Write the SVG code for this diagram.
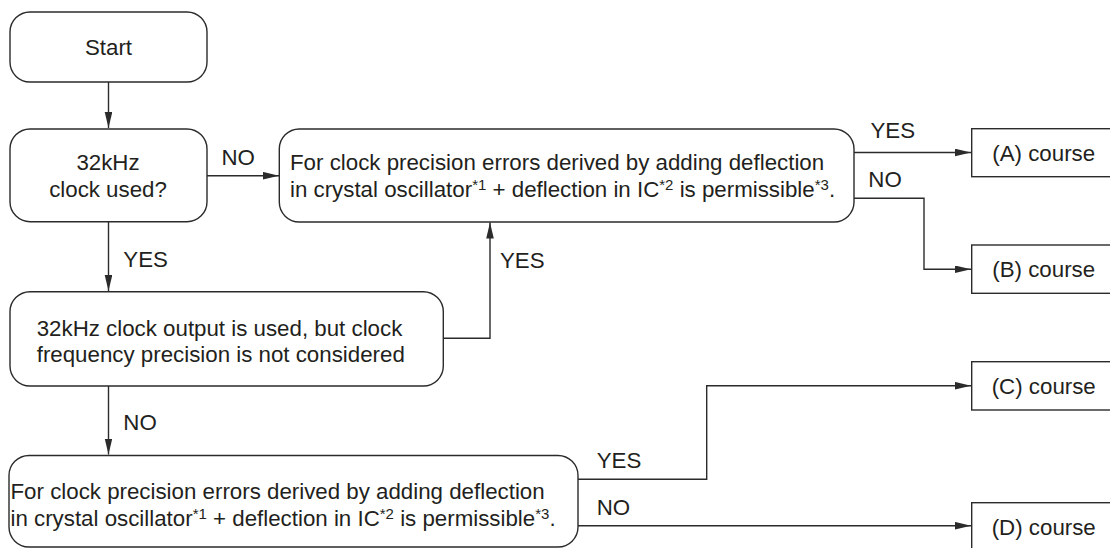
<svg xmlns="http://www.w3.org/2000/svg" width="1110" height="548" viewBox="0 0 1110 548">
<style>
.box{fill:#fff;stroke:#2b2b2b;stroke-width:1.4}
.t{font-family:"Liberation Sans",Arial,Helvetica,sans-serif;font-size:22.3px;fill:#231f20}
.c{text-anchor:middle}
.sup{font-size:15px}
.ln{fill:none;stroke:#2b2b2b;stroke-width:1.4;marker-end:url(#ah)}
</style>
<defs>
<marker id="ah" markerUnits="userSpaceOnUse" markerWidth="17" markerHeight="8" refX="16" refY="3.8" orient="auto">
<path d="M0,0 L16,3.8 L0,7.6 Z" fill="#2b2b2b"/>
</marker>
</defs>
<rect width="1110" height="548" fill="#fff"/>
<g id="connectors">
<path class="ln" d="M108.5,82 V128"/>
<path class="ln" d="M207,175.7 H279"/>
<path class="ln" d="M108.5,222 V291"/>
<path class="ln" d="M443,338.3 H490 V222.5"/>
<path class="ln" d="M854,152.5 H971"/>
<path class="ln" d="M854,198.3 H924 V269.3 H971"/>
<path class="ln" d="M108.5,386 V454.5"/>
<path class="ln" d="M578,479.3 H706.7 V385.7 H971"/>
<path class="ln" d="M578,525.7 H971"/>
</g>
<g id="labels">
<text class="t" x="221.5" y="165">NO</text>
<text class="t" x="123.3" y="266.7">YES</text>
<text class="t" x="500" y="268.3">YES</text>
<text class="t" x="870.5" y="138.3">YES</text>
<text class="t" x="868.3" y="186.7">NO</text>
<text class="t" x="123.3" y="430">NO</text>
<text class="t" x="596.7" y="468.3">YES</text>
<text class="t" x="596.7" y="515">NO</text>
</g>
<g id="start">
<rect class="box" x="10" y="12" width="197" height="70" rx="20"/>
<text class="t c" x="108.5" y="55.3">Start</text>
</g>
<g id="q32k">
<rect class="box" x="10" y="129" width="197" height="92.7" rx="20"/>
<text class="t c" x="108" y="170">32kHz</text>
<text class="t c" x="108" y="196.7">clock used?</text>
</g>
<g id="precisionTop">
<rect class="box" x="279.3" y="129" width="574.7" height="93" rx="20"/>
<text class="t" x="290" y="170">For clock precision errors derived by adding deflection</text>
<text class="t" x="290" y="196.7">in crystal oscillator<tspan class="sup" dy="-7">*1</tspan><tspan dy="7"> + deflection in IC</tspan><tspan class="sup" dy="-7">*2</tspan><tspan dy="7"> is permissible</tspan><tspan class="sup" dy="-7">*3</tspan><tspan dy="7">.</tspan></text>
</g>
<g id="output32k">
<rect class="box" x="10" y="291.7" width="433.3" height="94.3" rx="20"/>
<text class="t" x="36.7" y="335.5">32kHz clock output is used, but clock</text>
<text class="t" x="36.7" y="361.7">frequency precision is not considered</text>
</g>
<g id="precisionBottom">
<rect class="box" x="9" y="455.5" width="569" height="91.5" rx="20"/>
<text class="t" x="10.5" y="499">For clock precision errors derived by adding deflection</text>
<text class="t" x="10.5" y="525.5">in crystal oscillator<tspan class="sup" dy="-7">*1</tspan><tspan dy="7"> + deflection in IC</tspan><tspan class="sup" dy="-7">*2</tspan><tspan dy="7"> is permissible</tspan><tspan class="sup" dy="-7">*3</tspan><tspan dy="7">.</tspan></text>
</g>
<g id="courseA">
<rect class="box" x="971.7" y="128.7" width="145" height="48"/>
<text class="t" x="992.3" y="160.5">(A) course</text>
</g>
<g id="courseB">
<rect class="box" x="971.7" y="245" width="145" height="48.3"/>
<text class="t" x="992.3" y="277">(B) course</text>
</g>
<g id="courseC">
<rect class="box" x="971.7" y="361.7" width="145" height="48.3"/>
<text class="t" x="991.7" y="394">(C) course</text>
</g>
<g id="courseD">
<rect class="box" x="971.7" y="502.7" width="145" height="60"/>
<text class="t" x="991.7" y="535">(D) course</text>
</g>
</svg>
